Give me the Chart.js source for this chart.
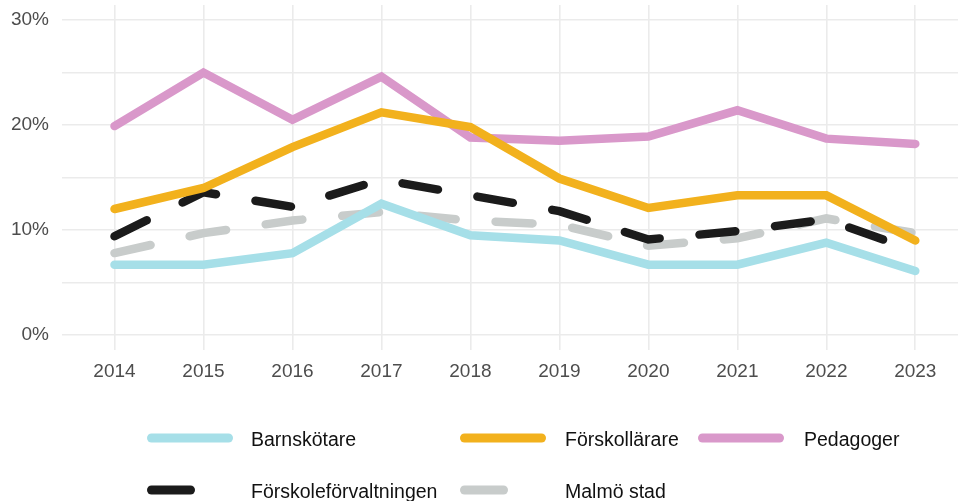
<!DOCTYPE html>
<html>
<head>
<meta charset="utf-8">
<script src="https://cdn.jsdelivr.net/npm/chart.js@4/dist/chart.umd.min.js"></script>
<style>
  html, body { margin: 0; padding: 0; background: #ffffff; }
  #wrap { width: 958px; height: 501px; }
</style>
</head>
<body>
<div id="wrap"><canvas id="c" width="958" height="501"></canvas></div>
<script>
// ---- data (percent) ----
const years = [2014, 2015, 2016, 2017, 2018, 2019, 2020, 2021, 2022, 2023];
const barnskotare = [6.7, 6.7, 7.8, 12.5, 9.5, 9.0, 6.7, 6.7, 8.8, 6.1];
const forskollarare = [12.0, 14.0, 17.9, 21.2, 19.8, 14.9, 12.1, 13.3, 13.3, 9.0];
const pedagoger = [19.9, 25.0, 20.5, 24.6, 18.8, 18.5, 18.9, 21.4, 18.7, 18.2];
const forskoleforvaltningen = [9.4, 13.6, 12.2, 14.8, 13.3, 11.8, 9.1, 9.9, 11.0, 8.0];
const malmoStad = [7.8, 9.7, 10.9, 11.7, 10.9, 10.5, 8.5, 9.2, 11.1, 9.7];
const yTickLabels = ['0%', '10%', '20%', '30%'];
const seriesNames = ['Barnskötare', 'Förskollärare', 'Pedagoger', 'Förskoleförvaltningen', 'Malmö stad'];

const FONT = "'Liberation Sans', Arial, Helvetica, sans-serif";
const pts = vals => years.map((yr, i) => ({ x: yr, y: vals[i] }));

const seriesDefs = [
  { name: seriesNames[0], vals: barnskotare, color: '#a6dfe8', dash: [], order: 1 },
  { name: seriesNames[1], vals: forskollarare, color: '#f2b11d', dash: [], order: 2 },
  { name: seriesNames[2], vals: pedagoger, color: '#d998ca', dash: [], order: 3 },
  { name: seriesNames[3], vals: forskoleforvaltningen, color: '#1b1b1b', dash: [36, 40], order: 4 },
  { name: seriesNames[4], vals: malmoStad, color: '#c8cccb', dash: [37, 40], order: 5 }
];

const datasets = seriesDefs.map(s => ({
  label: s.name,
  data: pts(s.vals),
  borderColor: s.color,
  backgroundColor: s.color,
  borderWidth: 8.5,
  borderDash: s.dash,
  borderDashOffset: 0,
  borderCapStyle: 'round',
  borderJoinStyle: 'miter',
  pointRadius: 0,
  pointHoverRadius: 0,
  tension: 0,
  fill: false,
  order: s.order
}));

// Legend layout (grid of 3 columns, 2 rows)
const legendCols = [
  { sw: 147, tx: 251 },
  { sw: 460, tx: 565 },
  { sw: 698, tx: 804 }
];
const legendRows = [438, 490];

const legendPlugin = {
  id: 'gridLegend',
  afterDraw(chart) {
    const ctx = chart.ctx;
    ctx.save();
    seriesDefs.forEach((s, i) => {
      const col = legendCols[i % 3];
      const row = legendRows[Math.floor(i / 3)];
      const len = s.dash.length ? 48 : 86;
      ctx.beginPath();
      ctx.lineWidth = 9;
      ctx.lineCap = 'round';
      ctx.strokeStyle = s.color;
      ctx.setLineDash([]);
      ctx.moveTo(col.sw + 4.5, row);
      ctx.lineTo(col.sw + len - 4.5, row);
      ctx.stroke();
      ctx.fillStyle = '#111111';
      ctx.font = '19.5px ' + FONT;
      ctx.textAlign = 'left';
      ctx.textBaseline = 'alphabetic';
      ctx.fillText(s.name, col.tx, row + 8);
    });
    ctx.restore();
  }
};

new Chart(document.getElementById('c'), {
  type: 'line',
  data: { datasets },
  options: {
    responsive: false,
    animation: false,
    events: [],
    layout: { padding: { top: 5, left: 0, right: 0, bottom: 0 } },
    plugins: { legend: { display: false }, tooltip: { enabled: false } },
    scales: {
      x: {
        type: 'linear',
        min: 2013.41,
        max: 2023.48,
        afterFit(scale) { scale.height = 151; scale.paddingLeft = 0; scale.paddingRight = 0; },
        grid: { color: '#ebebeb', lineWidth: 1.6, drawTicks: false },
        border: { display: false },
        ticks: {
          stepSize: 1,
          includeBounds: false,
          autoSkip: false,
          maxRotation: 0,
          padding: 10,
          color: '#4d4d4d',
          font: { family: FONT, size: 19 },
          callback: v => (Number.isInteger(v) && years.includes(v)) ? String(v) : ''
        }
      },
      y: {
        type: 'linear',
        min: -1.43,
        max: 31.43,
        afterFit(scale) { scale.width = 62; scale.paddingTop = 0; scale.paddingBottom = 0; },
        grid: { color: '#ebebeb', lineWidth: 1.6, drawTicks: false },
        border: { display: false },
        ticks: {
          stepSize: 5,
          includeBounds: false,
          autoSkip: false,
          padding: 13,
          color: '#4d4d4d',
          font: { family: FONT, size: 19 },
          callback: v => (v % 10 === 0 && v >= 0) ? yTickLabels[v / 10] : ''
        }
      }
    }
  },
  plugins: [legendPlugin]
});
</script>
</body>
</html>
